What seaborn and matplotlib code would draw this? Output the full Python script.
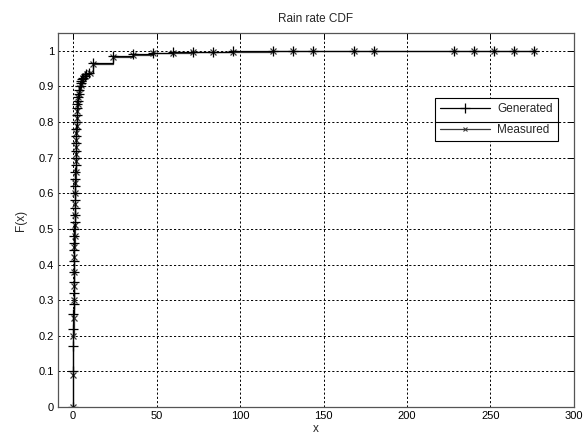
import numpy as np
import pandas as pd
import matplotlib
matplotlib.use("Agg")
import matplotlib.pyplot as plt
from matplotlib.lines import Line2D
import seaborn as sns

# Empirical CDF of rain rate (mm/h): generated vs measured
gen_rate = [0, 0, 0, 0.2, 0.2, 0.3, 0.4, 0.4, 0.5, 0.6, 0.6, 0.7, 0.8, 0.8, 0.9,
            1.0, 1.0, 1.1, 1.2, 1.2, 1.3, 1.4, 1.5, 1.6, 1.7, 1.8, 1.9, 2.0,
            2.1, 2.2, 2.4, 2.6, 2.8, 3.0, 3.3, 3.6, 4.0, 4.5, 5.0, 5.5,
            6.0, 7.0, 8.0, 9.5, 12, 24, 36, 48, 60, 72, 84, 96,
            120, 132, 144, 168, 180, 228, 240, 252, 264, 276]
gen_cdf = [0, 0.10, 0.17, 0.22, 0.26, 0.29, 0.32, 0.35, 0.38, 0.41, 0.44, 0.46,
           0.48, 0.50, 0.52, 0.54, 0.56, 0.58, 0.60, 0.62, 0.64, 0.66, 0.68, 0.70,
           0.72, 0.74, 0.76, 0.78, 0.80, 0.82, 0.84, 0.85, 0.86, 0.87, 0.88, 0.89,
           0.90, 0.91, 0.915, 0.92, 0.925, 0.93, 0.935, 0.938, 0.966, 0.985, 0.990,
           0.994, 0.996, 0.997, 0.998, 0.9985, 0.999, 0.9992, 0.9994, 0.9995,
           0.9996, 0.9997, 0.9998, 0.9999, 1.0, 1.0]

meas_rate = [0, 0, 0.1, 0.3, 0.4, 0.5, 0.6, 0.7, 0.8, 0.9, 1.0, 1.1, 1.2, 1.3, 1.4,
             1.5, 1.6, 1.7, 1.8, 1.9, 2.0, 2.1, 2.3, 2.5, 2.8, 3.1, 3.5, 4.0, 4.6,
             5.2, 6.0, 7.0, 8.5, 10, 12, 24, 36, 48, 60,
             72, 84, 96, 120, 132, 144, 168, 180, 228, 240, 252, 264, 276]
meas_cdf = [0, 0.09, 0.20, 0.25, 0.30, 0.34, 0.38, 0.42, 0.45, 0.48, 0.51, 0.54,
            0.57, 0.60, 0.63, 0.66, 0.69, 0.71, 0.73, 0.75, 0.77, 0.79, 0.81, 0.83,
            0.85, 0.87, 0.88, 0.895, 0.905, 0.915, 0.925, 0.93, 0.934, 0.937,
            0.964, 0.984, 0.989, 0.993, 0.995, 0.996, 0.997, 0.998, 0.9985,
            0.999, 0.9992, 0.9994, 0.9995, 0.9996, 0.9997, 0.9998, 0.9999, 1.0]

x_ticks = [0, 50, 100, 150, 200, 250, 300]
y_ticks = [0, 0.1, 0.2, 0.3, 0.4, 0.5, 0.6, 0.7, 0.8, 0.9, 1]
y_tick_labels = ["0", "0.1", "0.2", "0.3", "0.4", "0.5", "0.6", "0.7", "0.8", "0.9", "1"]

sns.set_style("white")
plt.rcParams["font.family"] = ["Liberation Sans", "DejaVu Sans"]
plt.rcParams["font.size"] = 8

gen_df = pd.DataFrame({"x": gen_rate, "F": gen_cdf})
meas_df = pd.DataFrame({"x": meas_rate, "F": meas_cdf})

fig = plt.figure(figsize=(5.86, 4.43), dpi=100)
fig.patch.set_facecolor("white")
ax = fig.add_axes([0.099, 0.0813, 0.8805, 0.8442])

sns.lineplot(data=meas_df, x="x", y="F", ax=ax, estimator=None, sort=False,
             color="#3a3a3a", linewidth=0.9, marker="x", markersize=4,
             markeredgewidth=0.9, markeredgecolor="#3a3a3a", drawstyle="steps-post")
sns.lineplot(data=gen_df, x="x", y="F", ax=ax, estimator=None, sort=False,
             color="black", linewidth=0.9, marker="+", markersize=6.5,
             markeredgewidth=0.9, markeredgecolor="black", drawstyle="steps-post")

ax.set_xlim(-9, 300)
ax.set_ylim(0, 1.05)
ax.set_xticks(x_ticks)
ax.set_yticks(y_ticks)
ax.set_yticklabels(y_tick_labels)
ax.grid(True, color="black", linestyle=(0, (2.2, 2.2)), linewidth=0.7)
ax.set_axisbelow(True)
ax.tick_params(direction="in", length=4, width=0.7, top=True, right=True,
               labelsize=8, colors="black", pad=3)
for sp in ax.spines.values():
    sp.set_color("#555555")
    sp.set_linewidth(0.9)

ax.set_title("Rain rate CDF", fontsize=8.5, pad=8)
ax.set_xlabel("x", fontsize=8.5, labelpad=1)
ax.set_ylabel("F(x)", fontsize=8.5, labelpad=8)

handles = [
    Line2D([], [], color="black", linewidth=0.9, marker="+", markersize=7,
           markeredgewidth=0.9),
    Line2D([], [], color="#3a3a3a", linewidth=0.9, marker="x", markersize=3.5,
           markeredgewidth=0.8),
]
leg = ax.legend(handles, ["Generated", "Measured"], loc="upper left",
                bbox_to_anchor=(435 / 586, 1 - 98 / 443),
                bbox_transform=fig.transFigure, frameon=True, fancybox=False,
                framealpha=1, edgecolor="black", fontsize=8.5, handlelength=4.2,
                handletextpad=0.6, borderpad=0.45, labelspacing=0.75,
                borderaxespad=0)
leg.get_frame().set_linewidth(0.8)

# separator between the two legend rows
fig.add_artist(Line2D([435 / 586, 559 / 586], [1 - 122 / 443, 1 - 122 / 443],
                      transform=fig.transFigure, color="black", linewidth=0.8))

fig.savefig("out.png", dpi=100, facecolor="white")
